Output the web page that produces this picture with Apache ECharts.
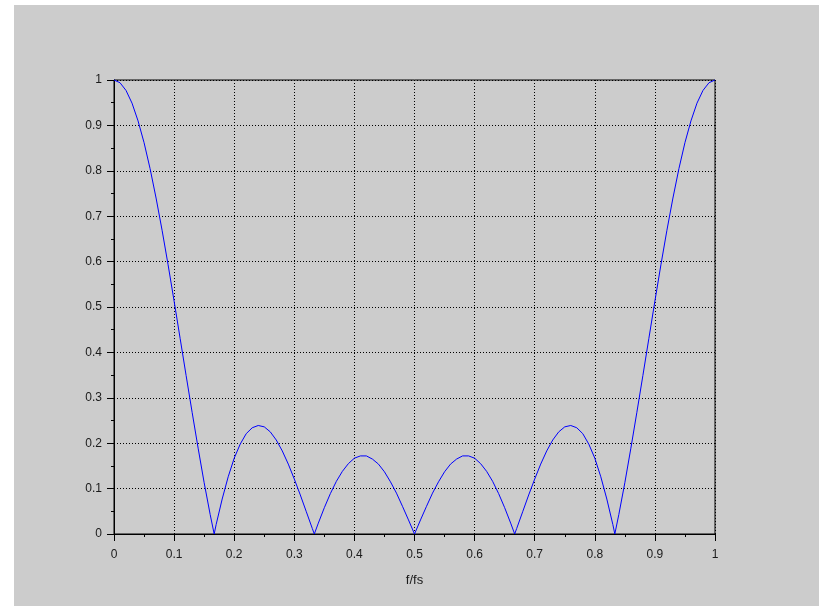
<!DOCTYPE html>
<html>
<head>
<meta charset="utf-8">
<script src="https://cdn.jsdelivr.net/npm/echarts@6/dist/echarts.min.js"></script>
<style>
html,body{margin:0;padding:0;background:#ffffff;}
#chart{position:absolute;left:14px;top:5px;width:805px;height:601px;background:#cccccc;}
</style>
</head>
<body>
<div id="chart"></div>
<script>
var freq = [0,0.01,0.02,0.03,0.04,0.05,0.06,0.07,0.08,0.09,0.10,0.11,0.12,0.13,0.14,0.15,0.16,0.1667,0.17,0.18,0.19,
0.20,0.21,0.22,0.23,0.24,0.25,0.26,0.27,0.28,0.29,0.30,0.31,0.32,0.33,0.3333,0.34,0.35,0.36,0.37,0.38,0.39,
0.40,0.41,0.42,0.43,0.44,0.45,0.46,0.47,0.48,0.49,0.50,0.51,0.52,0.53,0.54,0.55,0.56,0.57,0.58,0.59,
0.60,0.61,0.62,0.63,0.64,0.65,0.66,0.6667,0.67,0.68,0.69,0.70,0.71,0.72,0.73,0.74,0.75,0.76,0.77,0.78,0.79,
0.80,0.81,0.82,0.83,0.8333,0.84,0.85,0.86,0.87,0.88,0.89,0.90,0.91,0.92,0.93,0.94,0.95,0.96,0.97,0.98,0.99,1.00];
var magnitude = [1,0.994,0.977,0.949,0.910,0.862,0.805,0.740,0.669,0.593,0.513,0.431,0.349,0.268,0.189,0.113,0.043,0,0.021,0.077,0.126,
0.167,0.198,0.221,0.234,0.239,0.236,0.225,0.207,0.183,0.154,0.121,0.086,0.049,0.012,0,0.024,0.058,0.089,0.116,0.138,0.155,
0.167,0.172,0.172,0.165,0.154,0.137,0.115,0.090,0.061,0.031,0,0.031,0.061,0.090,0.115,0.137,0.154,0.165,0.172,0.172,
0.167,0.155,0.138,0.116,0.089,0.058,0.024,0,0.012,0.049,0.086,0.121,0.154,0.183,0.207,0.225,0.236,0.239,0.234,0.221,0.198,
0.167,0.126,0.077,0.021,0,0.043,0.113,0.189,0.268,0.349,0.431,0.513,0.593,0.669,0.740,0.805,0.862,0.910,0.949,0.977,0.994,1];
var xTicks = {min:0, max:1, interval:0.1};
var yTicks = {min:0, max:1, interval:0.1};

var points = freq.map(function(f,i){return [f, magnitude[i]];});
var chart = echarts.init(document.getElementById('chart'), null, {renderer:'canvas'});
var labelStyle = {color:'#1a1a1a', fontSize:12, fontFamily:'Liberation Sans, Arial, sans-serif'};
chart.setOption({
  animation:false,
  backgroundColor:'#cccccc',
  grid:{left:100, right:104, top:75, bottom:72, show:true, borderColor:'#000000', borderWidth:1, backgroundColor:'transparent'},
  xAxis:{
    type:'value', min:xTicks.min, max:xTicks.max, interval:xTicks.interval,
    name:'f/fs', nameLocation:'middle', nameGap:40,
    nameTextStyle:{color:'#1a1a1a', fontSize:13, fontFamily:'Liberation Sans, Arial, sans-serif'},
    axisLine:{show:true, lineStyle:{color:'#000000', width:1}},
    axisTick:{show:true, inside:false, length:7, lineStyle:{color:'#000000', width:1}},
    minorTick:{show:true, splitNumber:2, length:3, lineStyle:{color:'#000000', width:1}},
    splitLine:{show:true, lineStyle:{color:'#000000', type:[1,2], width:1}},
    axisLabel:Object.assign({margin:15, formatter:function(v){return String(+v.toFixed(1));}}, labelStyle)
  },
  yAxis:{
    type:'value', min:yTicks.min, max:yTicks.max, interval:yTicks.interval,
    axisLine:{show:true, lineStyle:{color:'#000000', width:1}},
    axisTick:{show:true, inside:false, length:7, lineStyle:{color:'#000000', width:1}},
    minorTick:{show:true, splitNumber:2, length:3, lineStyle:{color:'#000000', width:1}},
    splitLine:{show:true, lineStyle:{color:'#000000', type:[1,2], width:1}},
    axisLabel:Object.assign({margin:12, formatter:function(v){return String(+v.toFixed(1));}}, labelStyle)
  },
  series:[{
    type:'line', data:points, showSymbol:false, symbol:'none', smooth:false,
    lineStyle:{color:'#0000ff', width:1}, clip:false
  }]
});
</script>
</body>
</html>
